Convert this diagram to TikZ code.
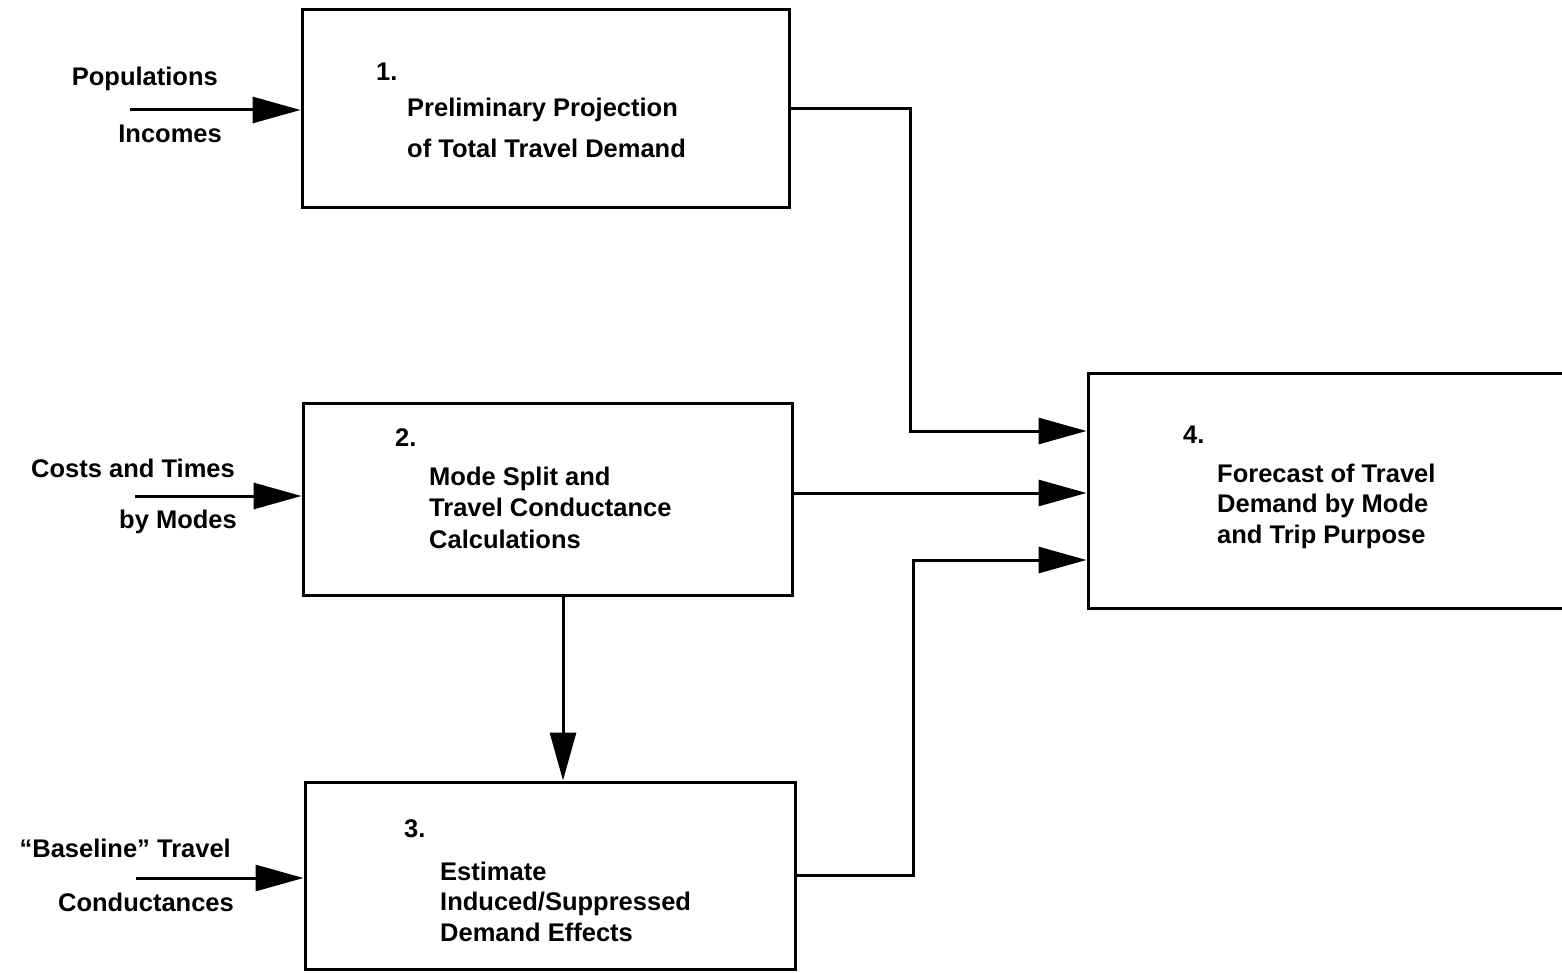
\documentclass[tikz,border=0pt]{standalone}
\usepackage{fontspec}
\setmainfont{Liberation Sans}
\usetikzlibrary{arrows.meta}
\newcommand\stk[1]{\vtop{\halign{##\hfil\cr#1\crcr}}}
\newcommand\fnt[1]{\fontsize{25.5}{#1}\selectfont\bfseries}
\tikzset{
  box/.style={draw, line width=3pt, rectangle, inner sep=0pt},
  lbl/.style={inner sep=0pt, font=\fnt{32}},
  num/.style={inner sep=0pt, anchor=base west, font=\fnt{32}},
  body/.style={inner sep=0pt, anchor=base west},
  arr/.style={line width=3pt, -{Triangle[length=48pt,width=26pt]}},
}
\begin{document}
\begin{tikzpicture}[x=1pt,y=-1pt]
\clip (0,0) rectangle (1562,973);
\fill[white] (0,0) rectangle (1562,973);
% boxes
\node[box, minimum width=487pt, minimum height=198pt] (b1) at (545.5,109) {};
\node[box, minimum width=489pt, minimum height=192pt] (b2) at (547.5,499) {};
\node[box, minimum width=490pt, minimum height=187pt] (b3) at (550,875.5) {};
\node[box, minimum width=532pt, minimum height=235pt] (b4) at (1354,490.5) {};
% box texts
\node[num] (n1) at (376,81) {1.};
\node[body, font=\fnt{41}] (t1) at (407,117) {\stk{Preliminary Projection\cr of Total Travel Demand}};
\node[num] (n2) at (395,446) {2.};
\node[body, font=\fnt{31.5}] (t2) at (429,485) {\stk{Mode Split and\cr Travel Conductance\cr Calculations}};
\node[num] (n3) at (404,837) {3.};
\node[body, font=\fnt{30.5}] (t3) at (440,880) {\stk{Estimate\cr Induced/Suppressed\cr Demand Effects}};
\node[num] (n4) at (1183,443) {4.};
\node[body, font=\fnt{30.5}] (t4) at (1217,482) {\stk{Forecast of Travel\cr Demand by Mode\cr and Trip Purpose}};
% input labels
\node[lbl, anchor=base east] (l1a) at (218,86) {Populations};
\node[lbl, anchor=base east] (l1b) at (222,143) {Incomes};
\node[lbl, anchor=base east] (l2a) at (235,477) {Costs and Times};
\node[lbl, anchor=base east] (l2b) at (237,528) {by Modes};
\node[lbl, anchor=base east] (l3a) at (231,857) {“Baseline” Travel};
\node[lbl, anchor=base east] (l3b) at (234,911) {Conductances};
% coordinates
\coordinate (in1) at (130,110);
\coordinate (in2) at (135,496);
\coordinate (in3) at (136,878);
\coordinate (k1) at (910,431);
\coordinate (m2) at (940,493);
\coordinate (k3) at (913,560);
\coordinate (v) at (563,700);
% connectors
\draw[arr] (in1) -- (b1.west |- in1);
\draw[arr] (in2) -- (b2.west |- in2);
\draw[arr] (in3) -- (b3.west |- in3);
\draw[arr] (b1.east) -| (k1) -- (b4.west |- k1);
\draw[arr] (b2.east |- m2) -- (b4.west |- m2);
\draw[arr] (b3.east) -| (k3) -- (b4.west |- k3);
\draw[arr] (b2.south -| v) -- (b3.north -| v);
\end{tikzpicture}
\end{document}
